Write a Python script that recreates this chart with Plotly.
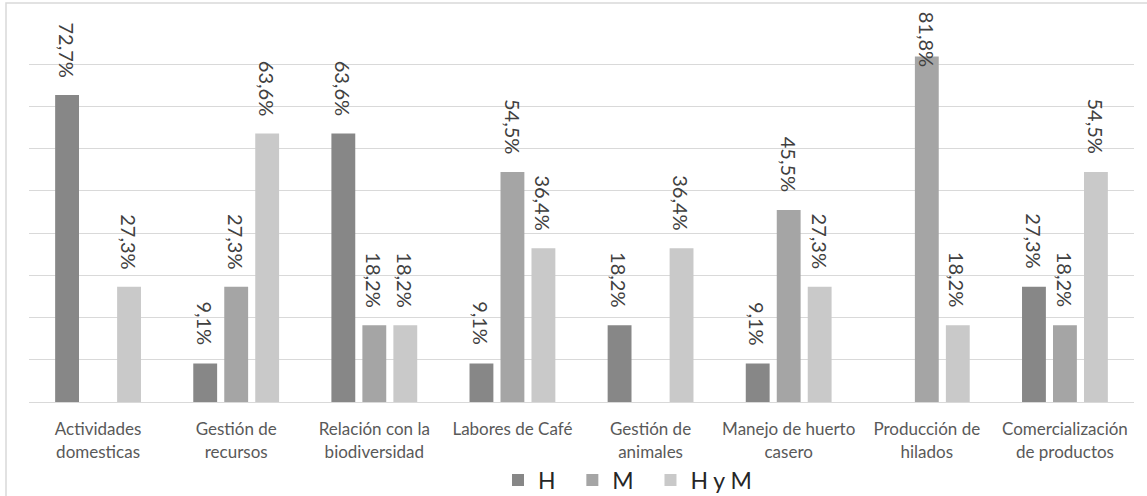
import plotly.graph_objects as go

# data (shares, 0-1)
categories = [
    "Actividades<br>domesticas",
    "Gestión de<br>recursos",
    "Relación con la<br>biodiversidad",
    "Labores de Café",
    "Gestión de<br>animales",
    "Manejo de huerto<br>casero",
    "Producción de<br>hilados",
    "Comercialización<br>de productos",
]
series_names = ["H", "M", "H y M"]
h_values = [0.727, 0.091, 0.636, 0.091, 0.182, 0.091, None, 0.273]
m_values = [None, 0.273, 0.182, 0.545, None, 0.455, 0.818, 0.182]
hym_values = [0.273, 0.636, 0.182, 0.364, 0.364, 0.273, 0.182, 0.545]
y_max = 0.9

colors = ["#878787", "#a5a5a5", "#c9c9c9"]

# layout geometry (pixels); plot area x 29..1134, y 22..402
W, H = 1147, 496
m_l, m_r, m_t, m_b = 29, 13, 22, 94
plot_w = W - m_l - m_r
plot_h = H - m_t - m_b
bargap = 0.327
bargroupgap = 0.23
slot = (1 - bargap) * plot_w / len(categories) / 3  # px between bars of a group
legend_pad = "\u00a0\u00a0"  # extra room between legend entries


def pct(v):
    return f"{v * 100:.1f}%".replace(".", ",")


fig = go.Figure()
all_values = [h_values, m_values, hym_values]
for name, vals, col in zip(series_names, all_values, colors):
    fig.add_trace(go.Bar(
        x=categories, y=vals, name=name + legend_pad,
        marker=dict(color=col, line=dict(width=0)),
        hoverinfo="skip",
    ))

# rotated value labels above the bars (kept inside the chart box at the top)
label_len = 56
pad = 16
for i, vals in enumerate(all_values):
    for cat, v in zip(categories, vals):
        if v is None:
            continue
        bar_top = m_t + (y_max - v) / y_max * plot_h
        shift = min(pad, bar_top - label_len - 13)
        fig.add_annotation(
            x=cat, y=v, xref="x", yref="y",
            text=pct(v), showarrow=False, textangle=90,
            xanchor="center", yanchor="bottom",
            xshift=(i - 1) * slot, yshift=shift,
            font=dict(family="Lato, Liberation Sans, sans-serif", size=20, color="#404040"),
        )

# light frame around the chart (runs past the right/bottom of the window)
fig.add_shape(
    type="rect", xref="paper", yref="paper",
    x0=(6 - m_l) / plot_w, x1=(W + 20 - m_l) / plot_w,
    y0=-(H + 20 - m_t - plot_h) / plot_h, y1=1 + (m_t - 3) / plot_h,
    line=dict(color="#d9d9d9", width=1.5), fillcolor="rgba(0,0,0,0)", layer="below",
)

fig.update_layout(
    width=W, height=H, autosize=False,
    margin=dict(l=m_l, r=m_r, t=m_t, b=m_b, autoexpand=False),
    paper_bgcolor="white", plot_bgcolor="white",
    barmode="group", bargap=bargap, bargroupgap=bargroupgap,
    font=dict(family="Lato, sans-serif", color="#595959"),
    xaxis=dict(
        showgrid=False, showline=True, linecolor="#d9d9d9", linewidth=1,
        ticks="", ticklabelstandoff=12, automargin=False,
        tickfont=dict(family="Lato, sans-serif", size=17, color="#595959"),
    ),
    yaxis=dict(
        range=[0, y_max], dtick=0.1, showticklabels=False,
        showgrid=True, gridcolor="#d9d9d9", gridwidth=1,
        zeroline=False, showline=False, automargin=False,
    ),
    legend=dict(
        orientation="h", xref="container", yref="container",
        x=498 / W, xanchor="left", y=1 - 480 / H, yanchor="middle",
        bgcolor="rgba(0,0,0,0)",
        font=dict(family="Lato, sans-serif", size=23, color="#262626"),
        itemwidth=30, traceorder="normal",
    ),
    showlegend=True,
)

fig.write_html(
    "out.html",
    config={"displayModeBar": False},
    post_script="document.body.style.margin = '0'; document.body.style.overflow = 'hidden';",
)
